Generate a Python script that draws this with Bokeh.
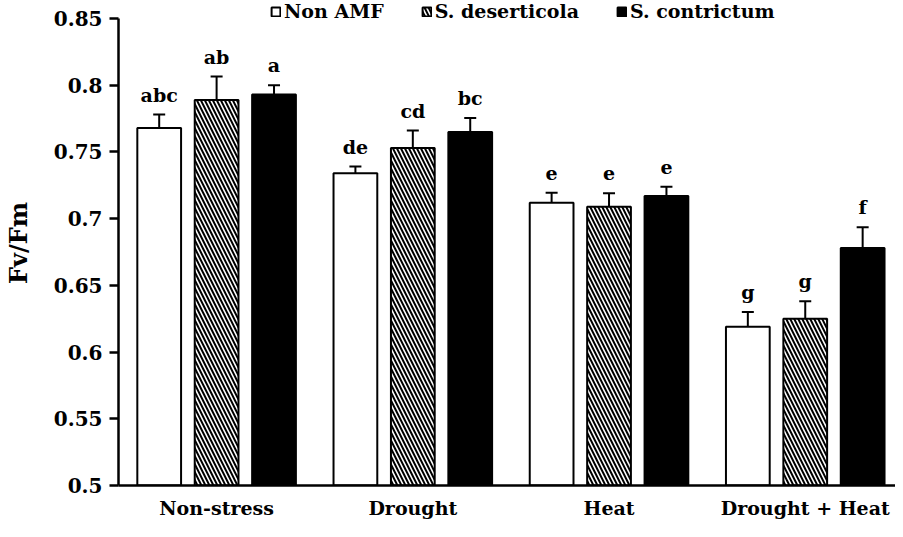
from bokeh.plotting import figure
from bokeh.models import (Range1d, FixedTicker, Whisker, TeeHead, ColumnDataSource,
                          Legend, LegendItem, LabelSet)
from bokeh.core.properties import value
from bokeh.embed import file_html
from bokeh.resources import INLINE

# ---------------- data ----------------
categories = ["Non-stress", "Drought", "Heat", "Drought + Heat"]
series_names = ["Non AMF", "S. deserticola", "S. contrictum"]

non_amf = [0.768, 0.734, 0.712, 0.619]
deserticola = [0.789, 0.753, 0.709, 0.625]
contrictum = [0.793, 0.765, 0.717, 0.678]

non_amf_err = [0.010, 0.005, 0.0075, 0.011]
deserticola_err = [0.0175, 0.013, 0.010, 0.013]
contrictum_err = [0.007, 0.0105, 0.007, 0.0155]

non_amf_letters = ["abc", "de", "e", "g"]
deserticola_letters = ["ab", "cd", "e", "g"]
contrictum_letters = ["a", "bc", "e", "f"]

y_ticks = [0.5, 0.55, 0.6, 0.65, 0.7, 0.75, 0.8, 0.85]
y_tick_labels = ["0.5", "0.55", "0.6", "0.65", "0.7", "0.75", "0.8", "0.85"]

# ---------------- style ----------------
FONT = "DejaVu Serif"
W, H = 895, 521
BAR_W = 0.223
OFFSET = 0.2926

p = figure(width=W, height=H, output_backend="svg", toolbar_location=None,
           x_range=Range1d(0, 3.96), y_range=Range1d(0.5, 0.8635),
           min_border_left=114, min_border_right=0, min_border_top=0,
           min_border_bottom=35)
p.outline_line_color = None
p.xgrid.grid_line_color = None
p.ygrid.grid_line_color = None
p.background_fill_color = "white"
p.border_fill_color = "white"

series = [
    (series_names[0], non_amf, non_amf_err, non_amf_letters,
     dict(fill_color="white")),
    (series_names[1], deserticola, deserticola_err, deserticola_letters,
     dict(fill_color="white", hatch_pattern="left_diagonal_line",
          hatch_color="black", hatch_scale=8, hatch_weight=2)),
    (series_names[2], contrictum, contrictum_err, contrictum_letters,
     dict(fill_color="black")),
]

legend_items = []
for k, (name, vals, errs, letters, style) in enumerate(series):
    xs = [i + 0.5 + (k - 1) * OFFSET for i in range(len(categories))]
    src = ColumnDataSource(dict(
        x=xs, top=vals, upper=[v + e for v, e in zip(vals, errs)],
        letters=letters))
    r = p.vbar(x="x", top="top", bottom=0.5, width=BAR_W, source=src,
               line_color="black", line_width=2, **style)
    legend_items.append(LegendItem(label=name, renderers=[r]))
    wh = Whisker(base="x", lower="top", upper="upper", source=src,
                 dimension="height", line_color="black", line_width=2,
                 upper_head=TeeHead(size=12, line_width=2, line_color="black"),
                 lower_head=None, level="annotation")
    p.add_layout(wh)
    ls = LabelSet(x="x", y="upper", text="letters", source=src,
                  text_align="center", text_baseline="alphabetic",
                  y_offset=13, text_font=value(FONT), text_font_style="bold",
                  text_font_size="19px", text_color="black")
    p.add_layout(ls)

legend = Legend(items=legend_items, orientation="horizontal",
                location=(152, 463), glyph_width=11, glyph_height=11,
                label_standoff=3, spacing=37, padding=0, margin=0,
                label_text_font=FONT, label_text_font_style="bold",
                label_text_font_size="19px", label_height=20,
                label_text_color="black",
                border_line_color=None, background_fill_alpha=0)
p.add_layout(legend, "center")

# y axis
yax = p.yaxis[0]
yax.ticker = FixedTicker(ticks=y_ticks)
yax.major_label_overrides = {t: s for t, s in zip(y_ticks, y_tick_labels)}
yax.bounds = (0.5, 0.85)
yax.axis_line_width = 2.5
yax.axis_line_color = "black"
yax.major_tick_line_width = 2.5
yax.major_tick_line_color = "black"
yax.major_tick_out = 9
yax.major_tick_in = 0
yax.minor_tick_line_color = None
yax.major_label_standoff = 7
yax.major_label_text_font = FONT
yax.major_label_text_font_style = "bold"
yax.major_label_text_font_size = "20px"
yax.major_label_text_color = "black"
yax.axis_label = "Fv/Fm"
yax.axis_label_text_font = FONT
yax.axis_label_text_font_style = "bold"
yax.axis_label_text_font_size = "24px"
yax.axis_label_text_color = "black"
yax.axis_label_standoff = 18

# x axis
xax = p.xaxis[0]
x_ticks = [i + 0.5 for i in range(len(categories))]
xax.ticker = FixedTicker(ticks=x_ticks)
xax.major_label_overrides = {t: c for t, c in zip(x_ticks, categories)}
xax.axis_line_width = 2.5
xax.axis_line_color = "black"
xax.major_tick_line_color = None
xax.major_tick_out = 0
xax.major_tick_in = 0
xax.minor_tick_line_color = None
xax.major_label_standoff = 11
xax.major_label_text_font = FONT
xax.major_label_text_font_style = "bold"
xax.major_label_text_font_size = "19px"
xax.major_label_text_color = "black"

open("out.html", "w").write(file_html(p, INLINE))
